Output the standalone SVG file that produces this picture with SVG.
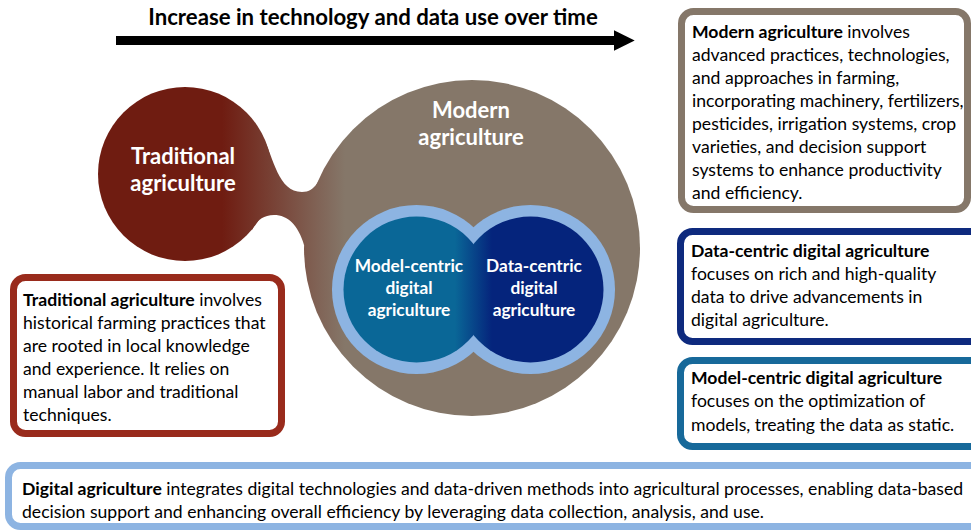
<svg xmlns="http://www.w3.org/2000/svg" width="971" height="531" viewBox="0 0 971 531">
<defs>
<linearGradient id="gTM" gradientUnits="userSpaceOnUse" x1="222" y1="0" x2="345" y2="0">
<stop offset="0" stop-color="#6f1c11"/>
<stop offset="1" stop-color="#857769"/>
</linearGradient>
<linearGradient id="gDig" gradientUnits="userSpaceOnUse" x1="455" y1="0" x2="492" y2="0">
<stop offset="0" stop-color="#0a6797"/>
<stop offset="1" stop-color="#05247c"/>
</linearGradient>
<marker id="ah" viewBox="0 0 10 10" refX="0" refY="5" markerWidth="2.3" markerHeight="2.3" orient="auto" markerUnits="strokeWidth">
<path d="M0,0 L10,5 L0,10 Z" fill="#000"/>
</marker>
</defs>
<style>
.lbl{font-family:Lato,"Liberation Sans",sans-serif;font-weight:bold;fill:#fff;text-anchor:middle}
.body{font-family:Lato,"Liberation Sans",sans-serif;font-size:17.6px;fill:#000}
.b{font-weight:bold}
.box{fill:#fff;stroke-width:7}
</style>
<rect width="971" height="531" fill="#fff"/>

<g id="title">
<text x="373" y="25" font-family="Lato,'Liberation Sans',sans-serif" font-size="22.2" font-weight="bold" text-anchor="middle" fill="#000">Increase in technology and data use over time</text>
</g>

<g id="connectors">
<line x1="116" y1="40.5" x2="614" y2="40.5" stroke="#000" stroke-width="9" marker-end="url(#ah)"/>
<path d="M262,135 C274,158 278,192 302,192 C316,192 320,178 325,168 L360,200 L330,250 L304,245 C298,225 288,215 274,215 C262,215 256,222 252,230 L230,200 Z" fill="url(#gTM)"/>
</g>

<g id="traditional">
<circle cx="185" cy="174" r="87" fill="url(#gTM)"/>
<text class="lbl" font-size="22" x="183" y="164">Traditional</text>
<text class="lbl" font-size="22" x="183" y="191">agriculture</text>
</g>

<g id="modern">
<circle cx="472" cy="248" r="168" fill="url(#gTM)"/>
<text class="lbl" font-size="22" x="471" y="118">Modern</text>
<text class="lbl" font-size="22" x="471" y="145">agriculture</text>
</g>

<g id="digital-circles">
<circle cx="416.5" cy="289.5" r="84.5" fill="#8db4e2"/>
<circle cx="530.5" cy="289.5" r="84.5" fill="#8db4e2"/>
<circle cx="416.5" cy="289.5" r="73" fill="url(#gDig)"/>
<circle cx="530.5" cy="289.5" r="73" fill="url(#gDig)"/>
</g>

<g id="model-centric">
<text class="lbl" font-size="17.3" x="409" y="272">Model-centric</text>
<text class="lbl" font-size="17.3" x="409" y="294">digital</text>
<text class="lbl" font-size="17.3" x="409" y="316">agriculture</text>
</g>

<g id="data-centric">
<text class="lbl" font-size="17.3" x="534" y="272">Data-centric</text>
<text class="lbl" font-size="17.3" x="534" y="294">digital</text>
<text class="lbl" font-size="17.3" x="534" y="316">agriculture</text>
</g>

<g id="box-traditional">
<rect class="box" x="13.5" y="277.5" width="268" height="156" rx="12" stroke="#992b1c"/>
<text class="body" x="23"><tspan x="23" y="306"><tspan class="b">Traditional agriculture</tspan> involves</tspan><tspan x="23" y="329">historical farming practices that</tspan><tspan x="23" y="352">are rooted in local knowledge</tspan><tspan x="23" y="375">and experience. It relies on</tspan><tspan x="23" y="398">manual labor and traditional</tspan><tspan x="23" y="421">techniques.</tspan></text>
</g>

<g id="box-modern">
<rect class="box" x="681.5" y="11.5" width="286" height="198" rx="12" stroke="#857769"/>
<text class="body"><tspan x="692" y="38"><tspan class="b">Modern agriculture</tspan> involves</tspan><tspan x="692" y="61">advanced practices, technologies,</tspan><tspan x="692" y="84">and approaches in farming,</tspan><tspan x="692" y="107">incorporating machinery, fertilizers,</tspan><tspan x="692" y="130">pesticides, irrigation systems, crop</tspan><tspan x="692" y="153">varieties, and decision support</tspan><tspan x="692" y="176">systems to enhance productivity</tspan><tspan x="692" y="199">and efficiency.</tspan></text>
</g>

<g id="box-data-centric">
<rect class="box" x="680.5" y="231.5" width="320" height="110" rx="12" stroke="#0e2a7e"/>
<text class="body"><tspan x="691" y="257" class="b">Data-centric digital agriculture</tspan><tspan x="691" y="280">focuses on rich and high-quality</tspan><tspan x="691" y="303">data to drive advancements in</tspan><tspan x="691" y="326">digital agriculture.</tspan></text>
</g>

<g id="box-model-centric">
<rect class="box" x="680.5" y="360.5" width="320" height="86" rx="12" stroke="#17699a"/>
<text class="body"><tspan x="691" y="384" class="b">Model-centric digital agriculture</tspan><tspan x="691" y="407">focuses on the optimization of</tspan><tspan x="691" y="431">models, treating the data as static.</tspan></text>
</g>

<g id="box-digital">
<rect class="box" x="8.5" y="465.5" width="1000" height="61" rx="12" stroke="#8db4e2"/>
<text class="body"><tspan x="22" y="495"><tspan class="b">Digital agriculture</tspan> integrates digital technologies and data-driven methods into agricultural processes, enabling data-based</tspan><tspan x="22" y="518">decision support and enhancing overall efficiency by leveraging data collection, analysis, and use.</tspan></text>
</g>
</svg>
